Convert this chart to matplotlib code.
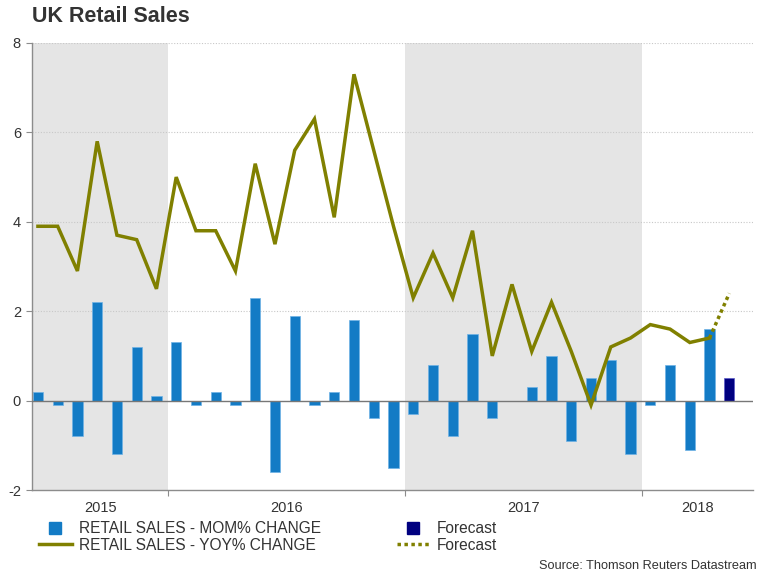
import matplotlib
matplotlib.use("Agg")
import matplotlib.pyplot as plt
from matplotlib.lines import Line2D
import numpy as np

plt.rcParams['font.family'] = ['Liberation Sans', 'DejaVu Sans']

# Monthly data, Jun 2015 .. Apr 2018 (actual), May 2018 forecast
mom = [0.2, -0.1, -0.8, 2.2, -1.2, 1.2, 0.1,
       1.3, -0.1, 0.2, -0.1, 2.3, -1.6, 1.9, -0.1, 0.2, 1.8, -0.4, -1.5,
       -0.3, 0.8, -0.8, 1.5, -0.4, 0.0, 0.3, 1.0, -0.9, 0.5, 0.9, -1.2,
       -0.1, 0.8, -1.1, 1.6]
mom_forecast = [0.5]
yoy = [3.9, 3.9, 2.9, 5.8, 3.7, 3.6, 2.5,
       5.0, 3.8, 3.8, 2.9, 5.3, 3.5, 5.6, 6.3, 4.1, 7.3, 5.6, 3.9,
       2.3, 3.3, 2.3, 3.8, 1.0, 2.6, 1.1, 2.2, 1.1, -0.1, 1.2, 1.4,
       1.7, 1.6, 1.3, 1.4]
yoy_forecast = [2.4]
years = ["2015", "2016", "2017", "2018"]
year_bounds = [-0.3, 6.6, 18.6, 30.6, 36.2]
shaded_years = [0, 2]
yticks = [-2, 0, 2, 4, 6, 8]

BLUE = "#137bc5"
NAVY = "#000080"
OLIVE = "#808000"
TXT = "#333333"
AX = "#8c8c8c"

fig = plt.figure(figsize=(7.68, 5.76), dpi=100)
ax = fig.add_axes([32/768, 1-490/576, (753-32)/768, (490-43)/576])

n = len(mom)
x = np.arange(n)
xf = np.arange(n, n + len(mom_forecast))

for i in shaded_years:
    ax.axvspan(year_bounds[i], year_bounds[i+1], color="#e5e5e5", zorder=0, lw=0)

for yv in yticks[2:]:
    ax.axhline(yv, color="#c8c8c8", lw=0.8, ls=(0, (1, 1.5)), zorder=1)
ax.axhline(0, color="#777777", lw=1.0, zorder=3)

ax.bar(x, mom, width=0.52, color=BLUE, edgecolor="#6fb3e6", linewidth=0.5, zorder=2)
ax.bar(xf, mom_forecast, width=0.52, color=NAVY, edgecolor="#5a5ac8", linewidth=0.5, zorder=2)

ax.plot(x, yoy, color=OLIVE, lw=2.5, zorder=4, solid_joinstyle="miter")
ax.plot([x[-1], xf[0]], [yoy[-1], yoy_forecast[0]], color=OLIVE, lw=2.5,
        ls=(0, (1, 1)), zorder=4)

ax.set_xlim(year_bounds[0], year_bounds[-1])
ax.set_ylim(-2, 8)
ax.set_yticks(yticks)
ax.set_yticklabels([str(v) for v in yticks])

ax.set_xticks(year_bounds[1:-1])
ax.set_xticklabels([])
centers = [(year_bounds[i] + year_bounds[i+1]) / 2 for i in range(4)]
for c, lab in zip(centers, years):
    ax.text(c, -0.04, lab, transform=ax.get_xaxis_transform(), ha="center",
            va="center", fontsize=10.5, color=TXT)

for s in ["top", "right"]:
    ax.spines[s].set_visible(False)
for s in ["left", "bottom"]:
    ax.spines[s].set_color(AX)
    ax.spines[s].set_linewidth(1.0)
ax.tick_params(axis="y", colors=AX, labelcolor=TXT, labelsize=10.5, length=4, pad=4)
ax.tick_params(axis="x", colors=AX, length=4)

fig.text(32/768, 1-17/576, "UK Retail Sales", fontsize=15.5, fontweight="bold",
         color=TXT, ha="left", va="center")

handles = [
    Line2D([], [], marker="s", ls="none", color=BLUE, markersize=8),
    Line2D([], [], color=OLIVE, lw=2.5),
    Line2D([], [], marker="s", ls="none", color=NAVY, markersize=8),
    Line2D([], [], color=OLIVE, lw=2.5, ls=(0, (1, 1))),
]
labels = ["RETAIL SALES - MOM% CHANGE", "RETAIL SALES - YOY% CHANGE",
          "Forecast", "Forecast"]
leg = fig.legend(handles, labels, loc="upper left", bbox_to_anchor=(39/768, 1-521/576),
                 ncol=2, frameon=False, fontsize=11.2, handlelength=2.1,
                 handletextpad=0.45, columnspacing=4.9, labelspacing=0.1,
                 borderaxespad=0, borderpad=0)
for t in leg.get_texts():
    t.set_color(TXT)

fig.text(757/768, 1-566/576, "Source: Thomson Reuters Datastream", fontsize=9.2,
         color=TXT, ha="right", va="center")

fig.savefig("out.png", dpi=100)
